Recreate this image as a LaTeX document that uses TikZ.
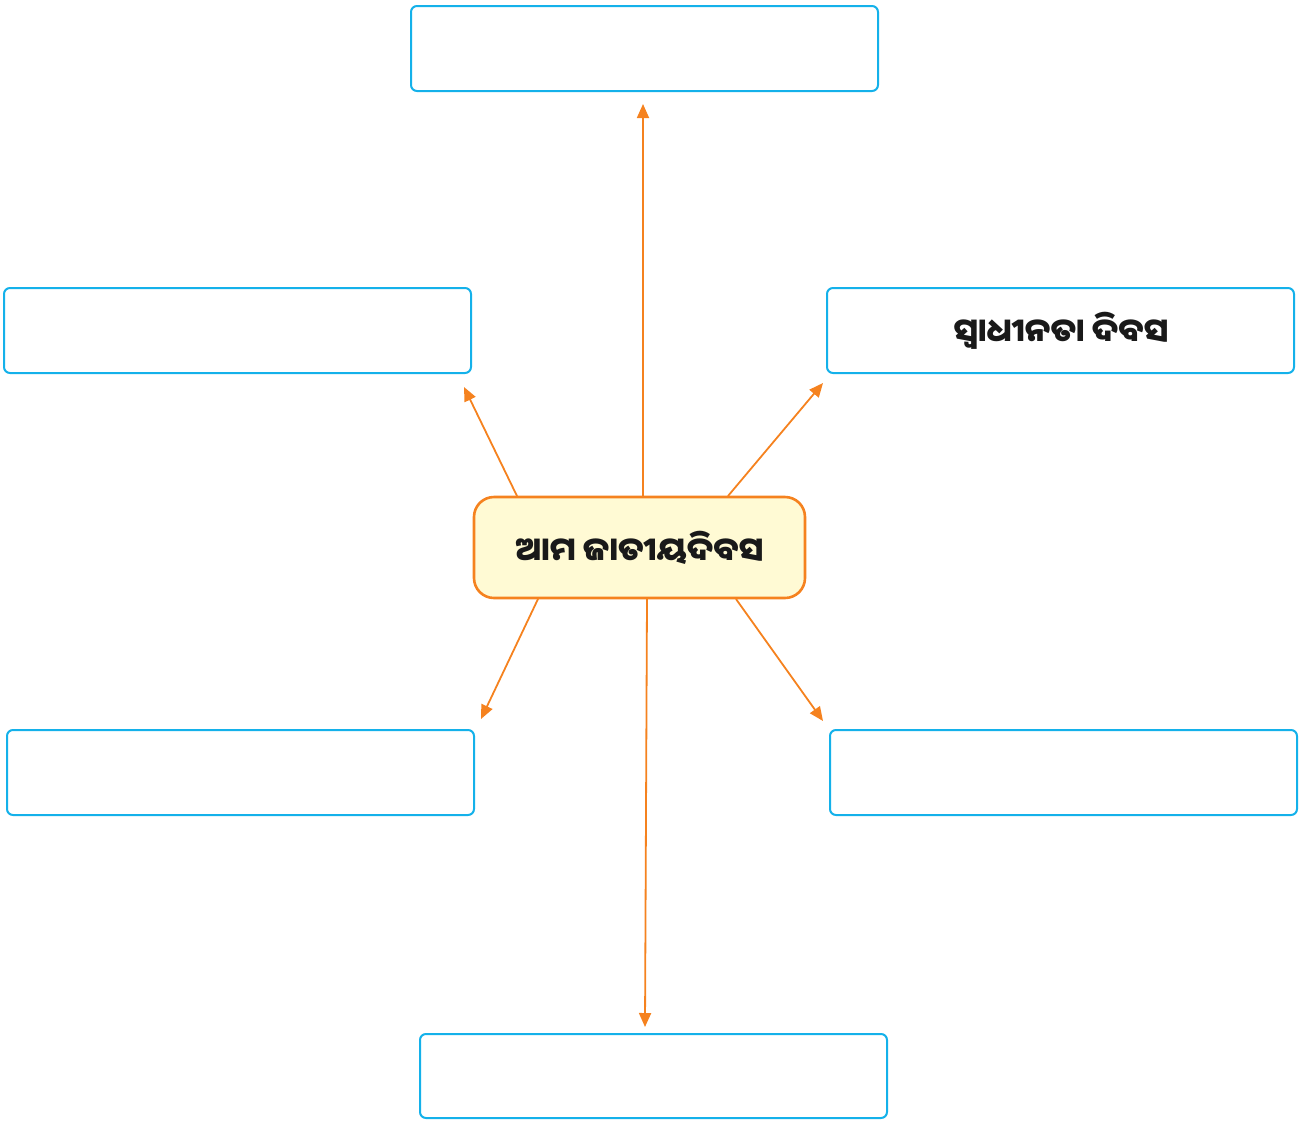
\documentclass[tikz,border=0pt]{standalone}
\usepackage{fontspec}
\newfontfamily\oriya[Script=Oriya]{Noto Sans Oriya UI}
\usetikzlibrary{arrows.meta}
\definecolor{boxblue}{HTML}{14B1EA}
\definecolor{arrorange}{HTML}{F5821F}
\definecolor{paleyellow}{HTML}{FFFAD4}
\tikzset{
  x=1pt,y=-1pt,
  emptybox/.style={draw=boxblue,line width=2pt,rounded corners=6pt,fill=white},
  hubbox/.style={draw=arrorange,line width=2.6pt,rounded corners=20pt,fill=paleyellow},
  conn/.style={draw=arrorange,line width=1.8pt,-{Triangle[length=14pt,width=12pt]}},
  lbl/.style={font=\oriya\fontsize{32.5}{36}\selectfont\bfseries,text=black!90}
}
\begin{document}
\begin{tikzpicture}
\useasboundingbox (0,0) rectangle (1302,1120);
% boxes
\draw[emptybox] (411,6) rectangle (878,91);
\draw[emptybox] (4,288) rectangle (471,373);
\draw[emptybox] (827,288) rectangle (1294,373);
\draw[emptybox] (7,730) rectangle (474,815);
\draw[emptybox] (830,730) rectangle (1297,815);
\draw[emptybox] (420,1034) rectangle (887,1118);
\node[lbl] (right) at (1061,331) {ସ୍ୱାଧୀନତା ଦିବସ};
% hub
\draw[hubbox] (474,497) rectangle (805,598);
\node[lbl] (hub) at (639.5,548) {ଆମ ଜାତୀୟଦିବସ};
% connector coordinates
\coordinate (sU) at (643,497);  \coordinate (tU) at (643,104);
\coordinate (sUL) at (517,496); \coordinate (tUL) at (464,387);
\coordinate (sUR) at (728,496); \coordinate (tUR) at (823,383);
\coordinate (sDL) at (538,599); \coordinate (tDL) at (481,719);
\coordinate (sDR) at (736,599); \coordinate (tDR) at (823,721);
\coordinate (sD) at (647,599);  \coordinate (tD) at (645,1027);
\draw[conn] (sU) -- (tU);
\draw[conn] (sUL) -- (tUL);
\draw[conn] (sUR) -- (tUR);
\draw[conn] (sDL) -- (tDL);
\draw[conn] (sDR) -- (tDR);
\draw[conn] (sD) -- (tD);
\end{tikzpicture}
\end{document}
